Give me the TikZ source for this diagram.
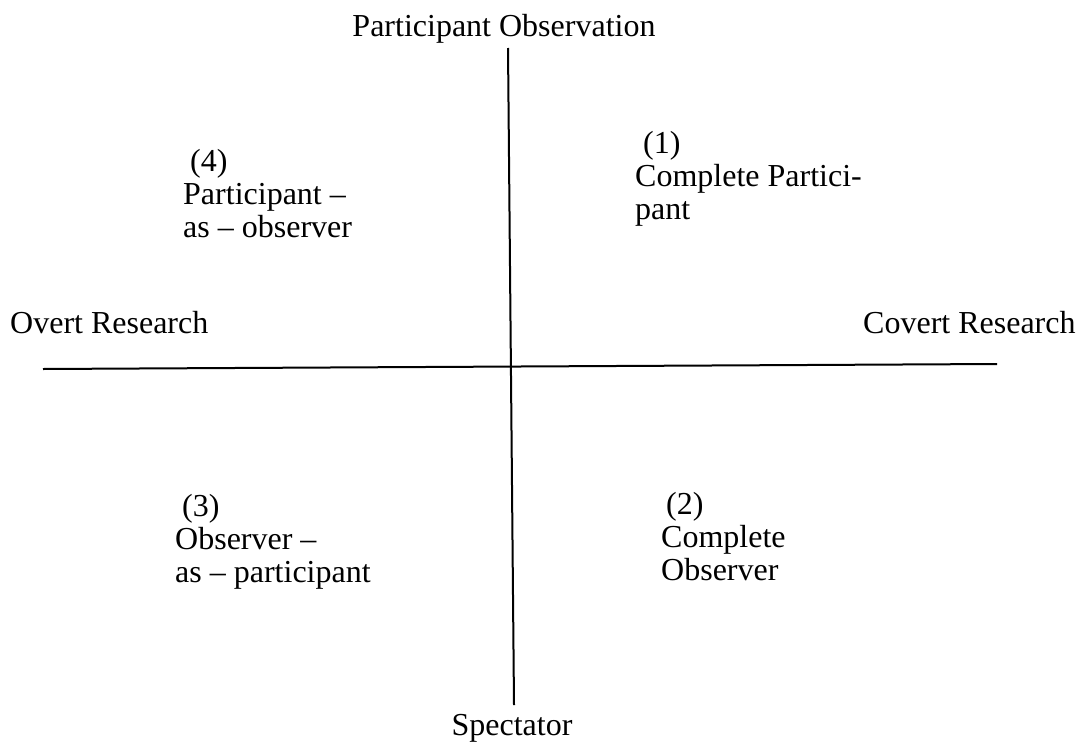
\documentclass[tikz,border=0pt]{standalone}
\usepackage{fontspec}
\setmainfont{Liberation Serif}
\begin{document}
\begin{tikzpicture}[x=1pt,y=-1pt,
  lbl/.style={anchor=base west,inner sep=0pt,font=\fontsize{32}{36}\selectfont},
  clbl/.style={anchor=base,inner sep=0pt,font=\fontsize{32}{36}\selectfont},
  axis/.style={line width=2pt,black}]
\useasboundingbox (0,0) rectangle (1078,744);
% axes
\coordinate (vt) at (508,48);
\coordinate (vb) at (514,705);
\coordinate (hl) at (43,369);
\coordinate (hr) at (997,364);
\draw[axis] (vt) -- (vb);
\draw[axis] (hl) -- (hr);
% axis labels
\node[clbl] (top) at (504,36) {Participant Observation};
\node[clbl] (bot) at (512,735) {Spectator};
\node[lbl] (left) at (10,333) {Overt Research};
\node[lbl] (right) at (863,333) {Covert Research};
% quadrant 4
\node[lbl] (q4a) at (190,171) {(4)};
\node[lbl] (q4b) at (183,204) {Participant –};
\node[lbl] (q4c) at (183,237) {as – observer};
% quadrant 1
\node[lbl] (q1a) at (643,153) {(1)};
\node[lbl] (q1b) at (635,186) {Complete Partici-};
\node[lbl] (q1c) at (635,219) {pant};
% quadrant 3
\node[lbl] (q3a) at (182,516) {(3)};
\node[lbl] (q3b) at (175,549) {Observer –};
\node[lbl] (q3c) at (175,582) {as – participant};
% quadrant 2
\node[lbl] (q2a) at (666,514) {(2)};
\node[lbl] (q2b) at (661,547) {Complete};
\node[lbl] (q2c) at (661,580) {Observer};
\end{tikzpicture}
\end{document}
